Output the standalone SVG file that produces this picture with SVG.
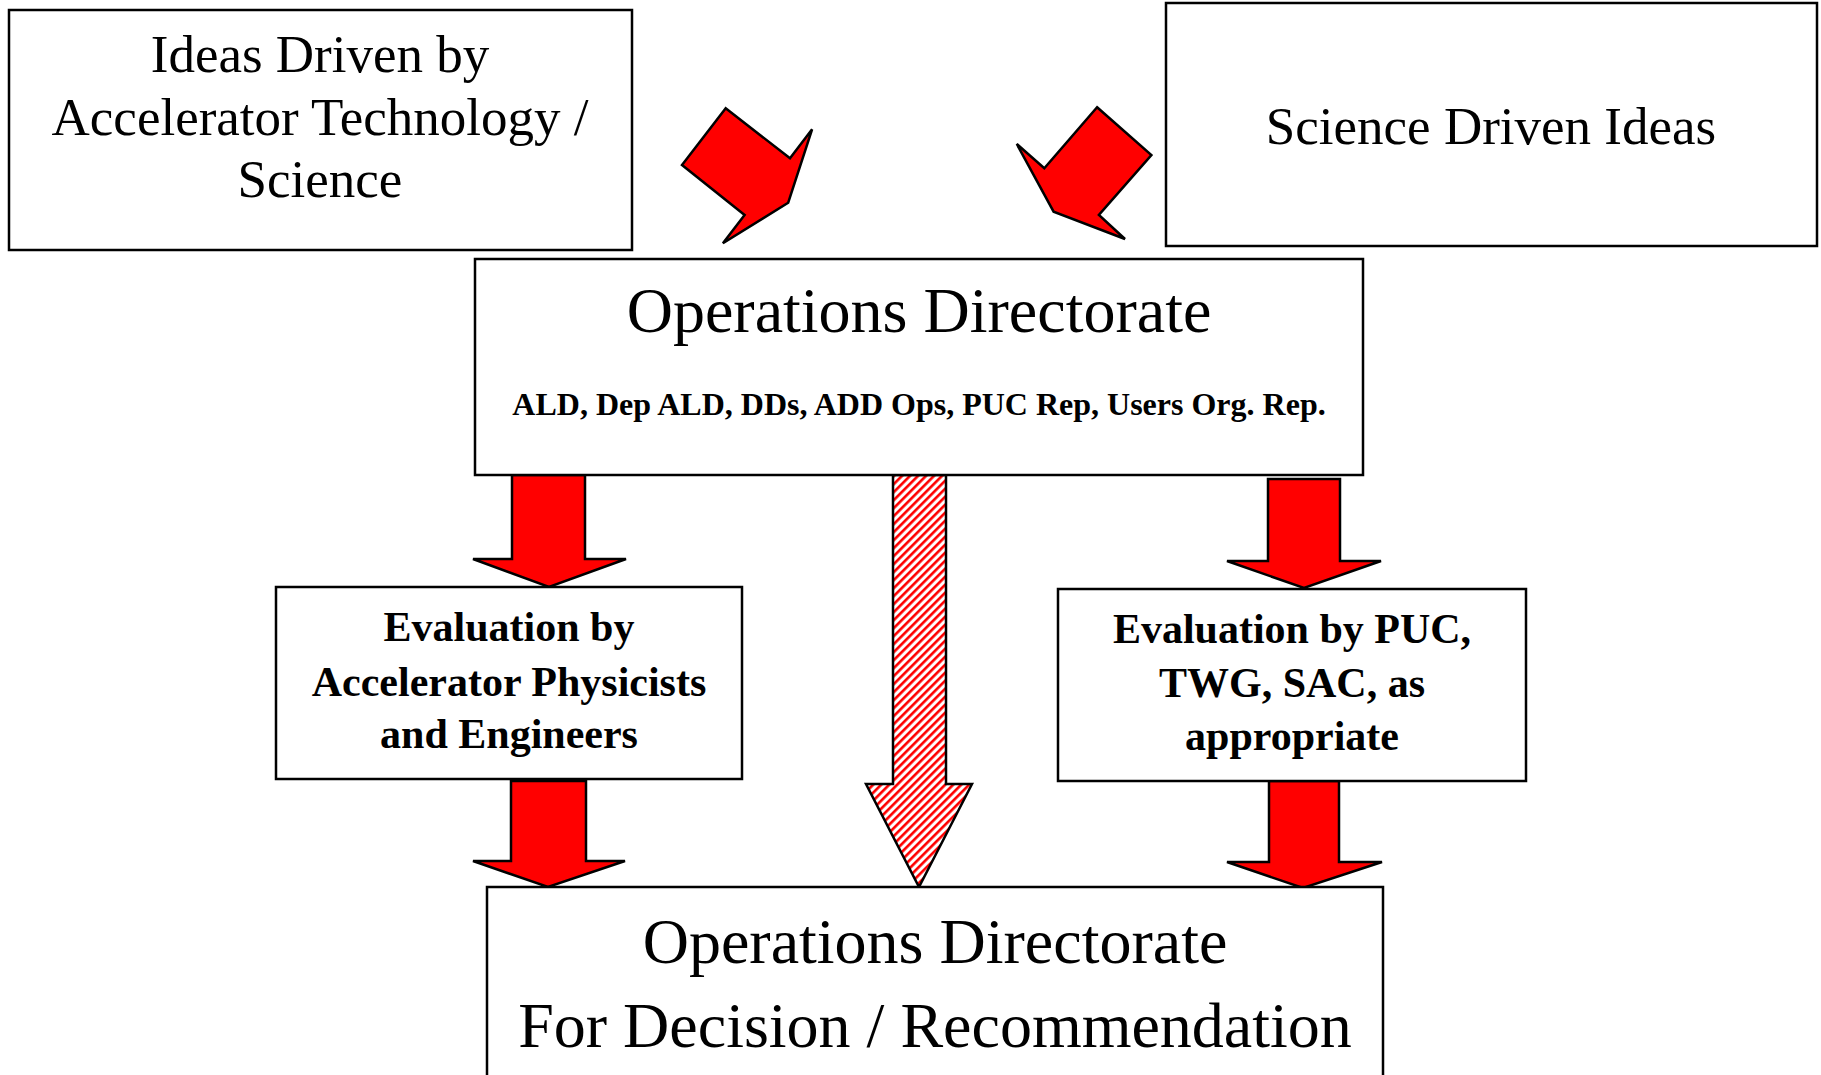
<svg xmlns="http://www.w3.org/2000/svg" width="1821" height="1075" viewBox="0 0 1821 1075">
<style>
.box{fill:#fff;stroke:#000;stroke-width:2.5}
.arr{fill:#ff0000;stroke:#000;stroke-width:2.5;stroke-linejoin:miter}
.hat{fill:url(#hatch);stroke:#000;stroke-width:2.5}
.t{font-family:"Liberation Serif","Times New Roman",serif;fill:#000;text-anchor:middle}
.r{font-size:53px}
.big{font-size:64px}
.b{font-weight:bold}
</style>
<defs>
<pattern id="hatch" patternUnits="userSpaceOnUse" width="5.657" height="5.657" patternTransform="rotate(45)">
<rect width="5.657" height="5.657" fill="#fff"/>
<rect width="2.6" height="5.657" fill="#ff0000"/>
</pattern>
</defs>
<rect width="1821" height="1075" fill="#fff"/>
<g id="connectors">
<polygon class="arr" points="725.7,108.3 682,165 744.6,215 722.9,243.3 788.2,202.7 812.1,129.3 790,158.3"/>
<polygon class="arr" points="1097.1,107.3 1151.4,155 1098.9,215 1125,239 1053.6,211.7 1016.8,144 1044.3,168.3"/>
<polygon class="arr" points="512,475 585,475 585,559 626,559 549,587 473,559 512,559"/>
<polygon class="hat" points="893,475 946,475 946,784 972,784 919,887 866,784 893,784"/>
<polygon class="arr" points="1268,479 1340,479 1340,561 1381,561 1304,588 1227,561 1268,561"/>
<polygon class="arr" points="511,781 586,781 586,861 625,861 548,887 473,861 511,861"/>
<polygon class="arr" points="1269,781 1339,781 1339,862 1382,862 1303,888 1227,862 1269,862"/>
</g>
<g id="node-ideas-tech">
<rect class="box" x="9" y="10" width="623" height="240"/>
<text class="t r" x="320" y="72">Ideas Driven by</text>
<text class="t r" x="320" y="135">Accelerator Technology /</text>
<text class="t r" x="320" y="197">Science</text>
</g>
<g id="node-science">
<rect class="box" x="1166" y="3" width="651" height="243"/>
<text class="t r" x="1491" y="144">Science Driven Ideas</text>
</g>
<g id="node-ops">
<rect class="box" x="475" y="259" width="888" height="216"/>
<text class="t big" x="919" y="332">Operations Directorate</text>
<text class="t b" x="919" y="415" font-size="32">ALD, Dep ALD, DDs, ADD Ops, PUC Rep, Users Org. Rep.</text>
</g>
<g id="node-eval-acc">
<rect class="box" x="276" y="587" width="466" height="192"/>
<text class="t b" x="509" y="641" font-size="42">Evaluation by</text>
<text class="t b" x="509" y="696" font-size="42">Accelerator Physicists</text>
<text class="t b" x="509" y="748" font-size="42">and Engineers</text>
</g>
<g id="node-eval-puc">
<rect class="box" x="1058" y="589" width="468" height="192"/>
<text class="t b" x="1292" y="643" font-size="42">Evaluation by PUC,</text>
<text class="t b" x="1292" y="697" font-size="42">TWG, SAC, as</text>
<text class="t b" x="1292" y="750" font-size="42">appropriate</text>
</g>
<g id="node-decision">
<rect class="box" x="487" y="887" width="896" height="200"/>
<text class="t big" x="935" y="963">Operations Directorate</text>
<text class="t big" x="935" y="1047">For Decision / Recommendation</text>
</g>
</svg>
